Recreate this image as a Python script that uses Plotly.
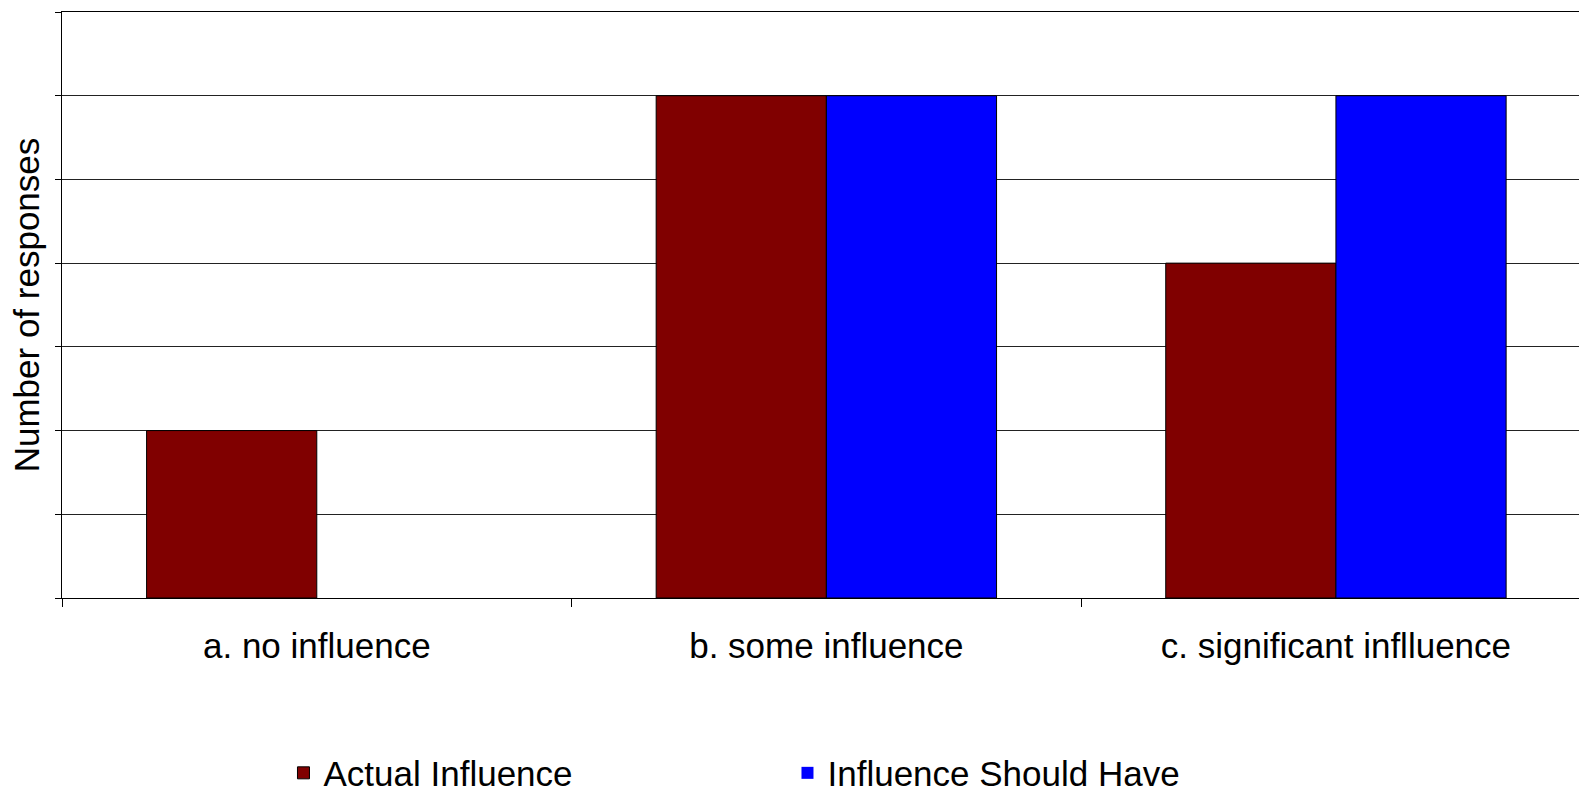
import plotly.graph_objects as go

# Survey responses per influence level
categories = ["a. no influence", "b. some influence", "c. significant inflluence"]
actual_influence = [2, 6, 4]
influence_should_have = [0, 6, 6]

FONT = "Liberation Sans, Arial, sans-serif"


def outline_widths(values):
    # no outline on zero-height bars so they leave no stray line on the axis
    return [0 if v == 0 else 1 for v in values]


fig = go.Figure()
fig.add_trace(go.Bar(
    name="Actual Influence",
    x=categories,
    y=actual_influence,
    marker=dict(color="#800000",
                line=dict(color="#000000", width=outline_widths(actual_influence))),
))
fig.add_trace(go.Bar(
    name="Influence Should Have",
    x=categories,
    y=influence_should_have,
    marker=dict(color="#0000FF",
                line=dict(color="#000000", width=outline_widths(influence_should_have))),
))

fig.update_layout(
    width=1579,
    height=797,
    margin=dict(l=62, r=0, t=12, b=199),
    paper_bgcolor="white",
    plot_bgcolor="white",
    barmode="group",
    bargap=0.332,
    bargroupgap=0,
    font=dict(family=FONT, color="black"),
    showlegend=True,
    legend=dict(
        orientation="h",
        xref="paper",
        x=0.146,
        xanchor="left",
        yref="container",
        y=0.03,
        yanchor="middle",
        font=dict(size=35, family=FONT),
        entrywidth=459,
        entrywidthmode="pixels",
        bgcolor="rgba(0,0,0,0)",
        traceorder="normal",
    ),
)

fig.update_xaxes(
    type="category",
    range=[-0.5, 2.477],
    showline=True,
    mirror=True,
    linecolor="black",
    linewidth=1,
    ticks="outside",
    tickson="boundaries",
    ticklen=8,
    tickcolor="black",
    tickfont=dict(size=35, family=FONT, color="black"),
    ticklabelstandoff=17,
    showgrid=False,
)

fig.update_yaxes(
    range=[0, 7],
    dtick=1,
    tick0=0,
    showline=True,
    linecolor="black",
    linewidth=1,
    ticks="outside",
    ticklen=6,
    tickcolor="black",
    showticklabels=False,
    showgrid=True,
    gridcolor="#222222",
    gridwidth=1.3,
    zeroline=False,
    title=dict(text="Number of responses", font=dict(size=35, family=FONT), standoff=4),
)

fig.write_html("out.html")
